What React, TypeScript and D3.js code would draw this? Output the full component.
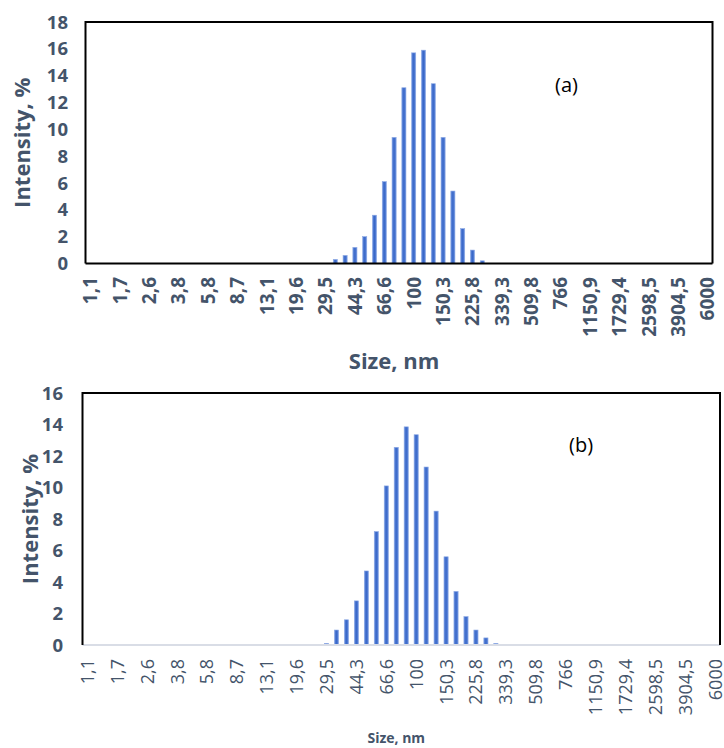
import React from "react";
import * as d3 from "d3";

const sizes = [
  "1,1", "1,3", "1,5", "1,7", "1,9", "2,2", "2,6", "2,9", "3,4", "3,8", "4,4", "5", "5,8", "6,6", "7,6", "8,7",
  "10", "11,4", "13,1", "15", "17,1", "19,6", "22,5", "25,8", "29,5", "33,8", "38,8", "44,3", "50,9", "58,3", "66,6", "76,5",
  "87,6", "100", "114,6", "131,2", "150,3", "172,2", "197,3", "225,8", "258,9", "296,4", "339,3", "388,8", "445,4", "509,8", "584,6", "669,7",
  "766", "878,2", "1005,9", "1150,9", "1319,9", "1512,1", "1729,4", "1984,5", "2273,4", "2598,5", "2983,5", "3417,9", "3904,5", "4485,5", "5138,6", "6000",
];

const tickLabels = [
  "1,1", "1,7", "2,6", "3,8", "5,8", "8,7", "13,1", "19,6", "29,5", "44,3", "66,6",
  "100", "150,3", "225,8", "339,3", "509,8", "766", "1150,9", "1729,4", "2598,5", "3904,5", "6000",
];

const intensityA = [
  0, 0, 0, 0, 0, 0, 0, 0, 0, 0, 0, 0, 0, 0, 0, 0,
  0, 0, 0, 0, 0, 0, 0, 0, 0, 0.3, 0.6, 1.2, 2.0, 3.6, 6.1, 9.4,
  13.1, 15.7, 15.9, 13.4, 9.4, 5.4, 2.6, 1.0, 0.2, 0, 0, 0, 0, 0, 0, 0,
  0, 0, 0, 0, 0, 0, 0, 0, 0, 0, 0, 0, 0, 0, 0, 0,
];

const intensityB = [
  0, 0, 0, 0, 0, 0, 0, 0, 0, 0, 0, 0, 0, 0, 0, 0,
  0, 0, 0, 0, 0, 0, 0, 0, 0.1, 0.95, 1.6, 2.8, 4.7, 7.2, 10.1, 12.55,
  13.85, 13.35, 11.3, 8.5, 5.6, 3.4, 1.8, 0.95, 0.45, 0.1, 0, 0, 0, 0, 0, 0,
  0, 0, 0, 0, 0, 0, 0, 0, 0, 0, 0, 0, 0, 0, 0, 0,
];

const yTicksA = [0, 2, 4, 6, 8, 10, 12, 14, 16, 18];
const yTicksB = [0, 2, 4, 6, 8, 10, 12, 14, 16];

const FONT = "'Open Sans', 'DejaVu Sans', sans-serif";
const TEXT = "#44546A";

type PanelProps = {
  values: number[];
  yTicks: number[];
  yMax: number;
  left: number;
  right: number;
  top: number;
  bottom: number;
  tag: string;
  tagX: number;
  tagY: number;
  yLabelX: number;
  yTitleX: number;
  yTitleSize: number;
  xLabelY: number;
  xLabelSize: number;
  xLabelWeight: number;
  xTitleY: number;
  xTitleSize: number;
  yLabelSize: number;
  bottomColor: string;
};

function Panel(p: PanelProps) {
  const x = d3
    .scaleBand<string>()
    .domain(sizes)
    .range([p.left, p.right])
    .paddingInner(0.58)
    .paddingOuter(0.29);
  const y = d3.scaleLinear().domain([0, p.yMax]).range([p.bottom, p.top]);
  const bw = x.bandwidth();
  const step = x.step();
  const midY = (p.top + p.bottom) / 2;
  return (
    <g>
      {sizes.map((s, i) =>
        p.values[i] > 0 ? (
          <rect
            key={s}
            x={(x(s) as number)}
            y={y(p.values[i])}
            width={bw}
            height={p.bottom - y(p.values[i])}
            fill="url(#barGrad)"
            stroke="#8CA8E4"
            strokeWidth={0.6}
          />
        ) : null
      )}
      <line x1={p.left} x2={p.right} y1={p.bottom} y2={p.bottom} stroke={p.bottomColor} strokeWidth={2} />
      <path
        d={`M${p.left},${p.bottom}V${p.top}H${p.right}V${p.bottom}`}
        fill="none"
        stroke="#000"
        strokeWidth={2}
      />
      {p.yTicks.map((t) => (
        <text
          key={t}
          x={p.yLabelX}
          y={y(t)}
          dy="0.36em"
          textAnchor="end"
          fontFamily={FONT}
          fontWeight={700}
          fontSize={p.yLabelSize}
          fill={TEXT}
        >
          {t}
        </text>
      ))}
      {tickLabels.map((t) => {
        const cx = (x(t) as number) + bw / 2;
        return (
          <text
            key={t}
            transform={`translate(${cx},${p.xLabelY}) rotate(-90)`}
            dy="0.36em"
            textAnchor="end"
            fontFamily={FONT}
            fontWeight={p.xLabelWeight}
            fontSize={p.xLabelSize}
            fill={TEXT}
          >
            {t}
          </text>
        );
      })}
      <text
        transform={`translate(${p.yTitleX},${midY}) rotate(-90)`}
        textAnchor="middle"
        dy="0.36em"
        fontFamily={FONT}
        fontWeight={700}
        fontSize={p.yTitleSize}
        fill={TEXT}
      >
        Intensity, %
      </text>
      <text
        x={(p.left + p.right) / 2 - step * 0.5}
        y={p.xTitleY}
        textAnchor="middle"
        fontFamily={FONT}
        fontWeight={700}
        fontSize={p.xTitleSize}
        fill={TEXT}
      >
        Size, nm
      </text>
      <text x={p.tagX} y={p.tagY} fontFamily={FONT} fontSize={20} fill="#000">
        {p.tag}
      </text>
    </g>
  );
}

export default function App() {
  return (
    <svg
      width={724}
      height={748}
      style={{ position: "absolute", left: 0, top: 0, background: "#fff" }}
    >
      <defs>
        <linearGradient id="barGrad" x1="0" x2="1" y1="0" y2="0">
          <stop offset="0" stopColor="#6089DA" />
          <stop offset="0.5" stopColor="#3A68C9" />
          <stop offset="1" stopColor="#6089DA" />
        </linearGradient>
      </defs>
      <rect x={0} y={0} width={724} height={748} fill="#fff" />
      <Panel
        values={intensityA}
        yTicks={yTicksA}
        yMax={18}
        left={85.5}
        right={712.5}
        top={22}
        bottom={263.5}
        tag="(a)"
        tagX={555}
        tagY={92}
        yLabelX={68}
        yLabelSize={18.5}
        yTitleX={22}
        yTitleSize={22}
        xLabelY={277}
        xLabelSize={19}
        xLabelWeight={700}
        xTitleY={369}
        xTitleSize={22}
        bottomColor="#000"
      />
      <Panel
        values={intensityB}
        yTicks={yTicksB}
        yMax={16}
        left={82.5}
        right={720}
        top={393}
        bottom={645}
        tag="(b)"
        tagX={569}
        tagY={452}
        yLabelX={63}
        yLabelSize={18.5}
        yTitleX={30}
        yTitleSize={22}
        xLabelY={659}
        xLabelSize={18}
        xLabelWeight={400}
        xTitleY={743}
        xTitleSize={14}
        bottomColor="#D9DDE6"
      />
    </svg>
  );
}
